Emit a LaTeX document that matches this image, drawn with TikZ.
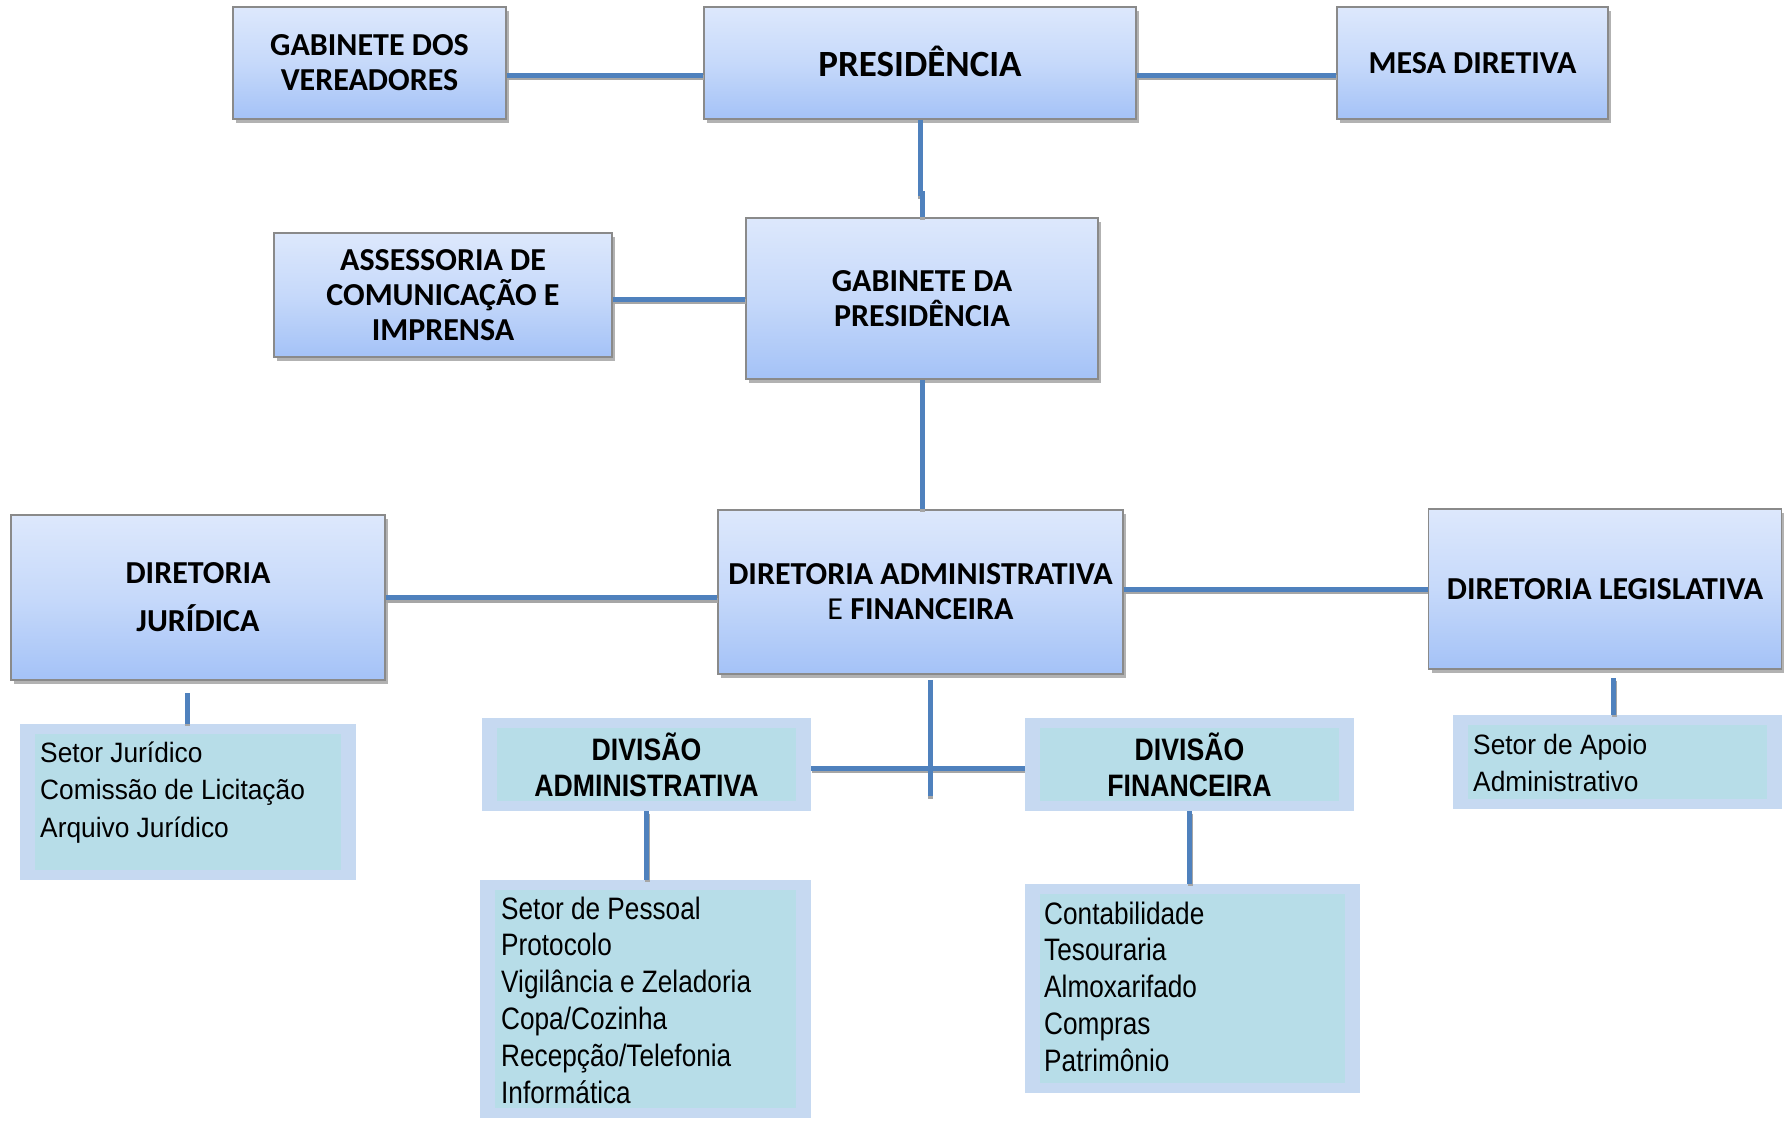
\documentclass[tikz,border=0pt]{standalone}
\usepackage{fontspec}
\setmainfont{Liberation Sans}
\newfontfamily\calib{Carlito}
\newfontfamily\arialn[FakeStretch=0.86]{Liberation Sans}
\newfontfamily\arialm[FakeStretch=0.845]{Liberation Sans}
\newfontfamily\ariala[FakeStretch=0.94]{Liberation Sans}
\usetikzlibrary{shadows,calc}
\definecolor{boxtop}{HTML}{DDE8FC}
\definecolor{boxmid}{HTML}{C6D9FA}
\definecolor{boxbot}{HTML}{A4C2F7}
\definecolor{boxedge}{HTML}{8A8A8A}
\definecolor{linec}{HTML}{4F81BD}
\definecolor{outerc}{HTML}{C6D9F1}
\definecolor{innerc}{HTML}{B7DDE8}
\begin{document}
\begin{tikzpicture}[x=1pt,y=1pt,
 bluebox/.style={draw=boxedge, line width=1.5pt, top color=boxtop, bottom color=boxbot, middle color=boxmid,
   drop shadow={shadow xshift=3pt,shadow yshift=-4pt,opacity=0.3,fill=black},
   inner sep=0pt, align=center, font=\calib\bfseries\fontsize{32}{35}\selectfont},
 lightbox/.style={fill=outerc, draw=none, inner sep=0pt, align=center,
   path picture={\fill[innerc] ([shift={(15pt,-10pt)}]path picture bounding box.north west) rectangle ([shift={(-15pt,10pt)}]path picture bounding box.south east);}},
 divtitle/.style={font=\arialn\bfseries\fontsize{31}{36}\selectfont},
 listn/.style={anchor=base west, align=left, inner sep=0pt, font=\arialm\fontsize{31}{36.8}\selectfont},
 lista/.style={anchor=base west, align=left, inner sep=0pt, font=\ariala\fontsize{28}{37.5}\selectfont},
 conn/.style={draw=linec, line width=5pt, preaction={draw=black!35, line width=5pt, transform canvas={shift={(0.5pt,-2.5pt)}}}}
]
\useasboundingbox (0,0) rectangle (1784,-1120);
% blue boxes
\node[bluebox, minimum width=273, minimum height=112] (gv) at (369.5,-63) {GABINETE DOS\\VEREADORES};
\node[bluebox, minimum width=432, minimum height=112, font=\calib\bfseries\fontsize{37}{40}\selectfont] (pres) at (920,-63) {\raisebox{3.5pt}{PRESIDÊNCIA}};
\node[bluebox, minimum width=271, minimum height=112] (mesa) at (1472.5,-63) {MESA DIRETIVA};
\node[bluebox, minimum width=338, minimum height=124] (asse) at (443,-295) {ASSESSORIA DE\\COMUNICAÇÃO E\\IMPRENSA};
\node[bluebox, minimum width=352, minimum height=161] (gabp) at (922,-298.5) {GABINETE DA\\PRESIDÊNCIA};
\node[bluebox, minimum width=374, minimum height=165, font=\calib\bfseries\fontsize{32}{48}\selectfont] (dj) at (198,-597.5) {DIRETORIA\\JURÍDICA};
\node[bluebox, minimum width=405, minimum height=164] (daf) at (920.5,-592) {DIRETORIA ADMINISTRATIVA\\{\mdseries E} FINANCEIRA};
\node[bluebox, minimum width=353, minimum height=160] (dl) at (1605,-589) {DIRETORIA LEGISLATIVA};
% light boxes
\node[lightbox, minimum width=336, minimum height=156] (jurb) at (188,-802) {};
\node[lightbox, divtitle, minimum width=329, minimum height=93] (divadm) at (646.5,-764.5) {DIVISÃO\\ADMINISTRATIVA};
\node[lightbox, divtitle, minimum width=329, minimum height=93] (divfin) at (1189.5,-764.5) {DIVISÃO\\FINANCEIRA};
\node[lightbox, minimum width=329, minimum height=94] (apoio) at (1617.5,-762) {};
\node[lightbox, minimum width=331, minimum height=238] (pess) at (645.5,-999) {};
\node[lightbox, minimum width=335, minimum height=209] (contab) at (1192.5,-988.5) {};
% list texts (base anchor = last line)
\node[lista] (jurt) at (40,-837) {Setor Jurídico\\Comissão de Licitação\\Arquivo Jurídico};
\node[lista] (apoiot) at (1473,-791.5) {Setor de Apoio\\Administrativo};
\node[listn] (pesst) at (501,-1103) {Setor de Pessoal\\Protocolo\\Vigilância e Zeladoria\\Copa/Cozinha\\Recepção/Telefonia\\Informática};
\node[listn] (contabt) at (1044,-1071.2) {Contabilidade\\Tesouraria\\Almoxarifado\\Compras\\Patrimônio};
% connectors
\coordinate (djend) at (187,-693);
\coordinate (dafend) at (930,-796);
\coordinate (dlend) at (1613.5,-678);
\draw[conn] ([yshift=-12pt]gv.east) -- ([yshift=-12pt]pres.west);
\draw[conn] ([yshift=-12pt]pres.east) -- ([yshift=-12pt]mesa.west);
\draw[conn] (pres.south) -- ++(0,-74) -| (gabp.north);
\draw[conn] ([yshift=-4pt]asse.east) -- ([yshift=-4pt]asse.east -| gabp.west);
\draw[conn] (gabp.south) -- (gabp.south |- daf.north);
\draw[conn] (dj.east) -- (dj.east -| daf.west);
\draw[conn] (dl.west -| daf.east) -- (dl.west);
\draw[conn] ([yshift=-3.5pt]divadm.east) -- ([yshift=-3.5pt]divadm.east -| divfin.west);
\draw[conn] ([xshift=9.5pt,yshift=-5pt]daf.south) -- (dafend);
\draw[conn] (djend) -- (djend |- jurb.north);
\draw[conn] (divadm.south) -- (divadm.south |- pess.north);
\draw[conn] (divfin.south) -- (divfin.south |- contab.north);
\draw[conn] (dlend) -- (dlend |- apoio.north);
\end{tikzpicture}
\end{document}
